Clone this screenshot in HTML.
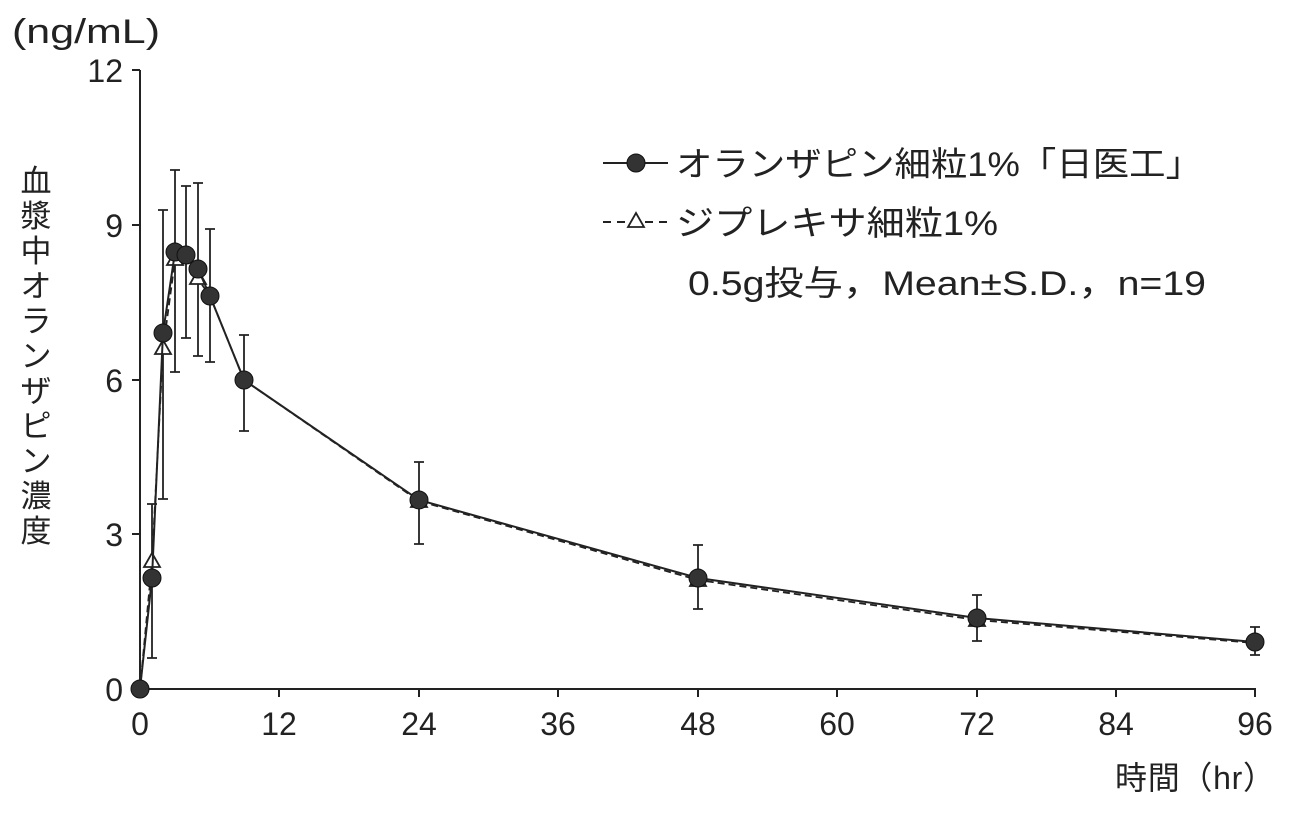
<!DOCTYPE html>
<html><head><meta charset="utf-8"><style>
html,body{margin:0;padding:0;background:#fff}
svg text{font-family:"Liberation Sans","Noto Sans CJK JP",sans-serif;fill:#222}
</style></head><body>
<svg width="1293" height="821" viewBox="0 0 1293 821" xmlns="http://www.w3.org/2000/svg">
<g stroke="#222" stroke-width="2" fill="none">
<line x1="140" y1="70" x2="140" y2="689"/>
<line x1="140" y1="689" x2="1256" y2="689"/>
<line x1="140" y1="70" x2="132" y2="70"/>
<line x1="140" y1="225" x2="132" y2="225"/>
<line x1="140" y1="380" x2="132" y2="380"/>
<line x1="140" y1="534" x2="132" y2="534"/>
<line x1="140" y1="689" x2="132" y2="689"/>
<line x1="279" y1="689" x2="279" y2="697"/>
<line x1="419" y1="689" x2="419" y2="697"/>
<line x1="558" y1="689" x2="558" y2="697"/>
<line x1="698" y1="689" x2="698" y2="697"/>
<line x1="837" y1="689" x2="837" y2="697"/>
<line x1="977" y1="689" x2="977" y2="697"/>
<line x1="1116" y1="689" x2="1116" y2="697"/>
<line x1="1255" y1="689" x2="1255" y2="697"/>
</g>
<g font-size="32" text-anchor="end">
<text x="123" y="82">12</text><text x="123" y="237">9</text><text x="123" y="392">6</text><text x="123" y="546">3</text><text x="123" y="701">0</text>
</g>
<g font-size="32" text-anchor="middle">
<text x="140" y="735">0</text><text x="279" y="735">12</text><text x="419" y="735">24</text><text x="558" y="735">36</text><text x="698" y="735">48</text><text x="837" y="735">60</text><text x="977" y="735">72</text><text x="1116" y="735">84</text><text x="1255" y="735">96</text>
</g>
<text x="12" y="43" font-size="34" textLength="148" lengthAdjust="spacingAndGlyphs">(ng/mL)</text>
<text x="1115" y="789" font-size="32" textLength="160" lengthAdjust="spacing">時間（hr）</text>
<g font-size="31" text-anchor="middle">
<text x="36" y="192">血</text><text x="36" y="227">漿</text><text x="36" y="262">中</text><text x="36" y="297">オ</text><text x="36" y="332">ラ</text><text x="36" y="367">ン</text><text x="36" y="402">ザ</text><text x="36" y="437">ピ</text><text x="36" y="472">ン</text><text x="36" y="507">濃</text><text x="36" y="542">度</text>
</g>
<g stroke="#222" stroke-width="1.8">
<path d="M152 504V658M147 504h10M147 658h10"/>
<path d="M163 210V499M158 210h10M158 499h10"/>
<path d="M175 170V372M170 170h10M170 372h10"/>
<path d="M186 186V338M181 186h10M181 338h10"/>
<path d="M198 183V356M193 183h10M193 356h10"/>
<path d="M210 229V362M205 229h10M205 362h10"/>
<path d="M244 335V431M239 335h10M239 431h10"/>
<path d="M419 462V544M414 462h10M414 544h10"/>
<path d="M698 545V609M693 545h10M693 609h10"/>
<path d="M977 595V641M972 595h10M972 641h10"/>
<path d="M1255 627V655M1250 627h10M1250 655h10"/>
</g>
<polyline fill="none" stroke="#222" stroke-width="1.8" stroke-dasharray="7,4" points="140,689 152,562 163,349 175,260 186,258 198,279 210,296 244,380 419,501 698,580 977,620 1255,643"/>
<g fill="#fff" stroke="#222" stroke-width="1.8">
<path d="M152,553l8,14h-16z"/><path d="M163,340l8,14h-16z"/><path d="M175,251l8,14h-16z"/><path d="M198,270l8,14h-16z"/><path d="M419,493l8,14h-16z"/><path d="M698,572l8,14h-16z"/><path d="M977,612l8,14h-16z"/>
</g>
<polyline fill="none" stroke="#222" stroke-width="2" points="140,689 152,578 163,333 175,252 186,255 198,269 210,296 244,380 419,500 698,578 977,618 1255,642"/>
<g fill="#333" stroke="#111" stroke-width="1">
<circle cx="140" cy="689" r="9"/><circle cx="152" cy="578" r="9"/><circle cx="163" cy="333" r="9"/><circle cx="175" cy="252" r="9"/><circle cx="186" cy="255" r="9"/><circle cx="198" cy="269" r="9"/><circle cx="210" cy="296" r="9"/><circle cx="244" cy="380" r="9"/><circle cx="419" cy="500" r="9"/><circle cx="698" cy="578" r="9"/><circle cx="977" cy="618" r="9"/><circle cx="1255" cy="642" r="9"/>
</g>
<line x1="603" y1="163" x2="668" y2="163" stroke="#222" stroke-width="2"/>
<circle cx="636" cy="163" r="9" fill="#333" stroke="#111"/>
<text x="676" y="176" font-size="34" textLength="526" lengthAdjust="spacingAndGlyphs">オランザピン細粒1%「日医工」</text>
<line x1="603" y1="222" x2="668" y2="222" stroke="#222" stroke-width="2" stroke-dasharray="8,6"/>
<path d="M636,213l8,14h-16z" fill="#fff" stroke="#222" stroke-width="1.8"/>
<text x="676" y="235" font-size="34" textLength="322" lengthAdjust="spacingAndGlyphs">ジプレキサ細粒1%</text>
<text x="688" y="295" font-size="34" textLength="518" lengthAdjust="spacingAndGlyphs">0.5g投与，Mean±S.D.，n=19</text>
</svg>
</body></html>
